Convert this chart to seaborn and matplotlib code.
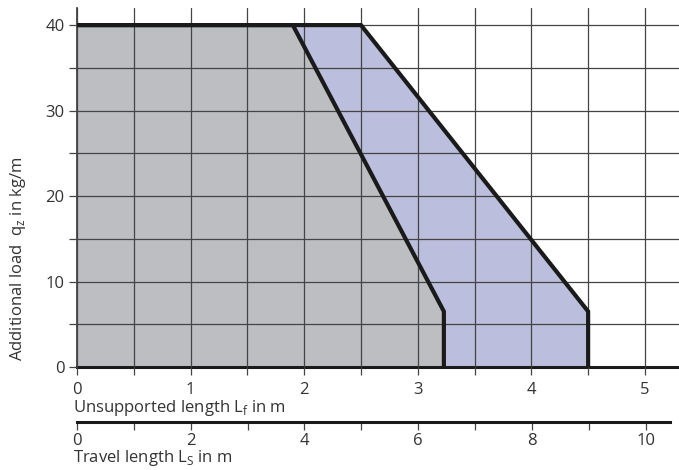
import matplotlib
matplotlib.use("Agg")
import matplotlib.pyplot as plt
import seaborn as sns
import numpy as np
import pandas as pd
from matplotlib.ticker import MultipleLocator

# Load limit curves: unsupported length (m) vs additional load (kg/m)
inner_x = [0.0, 1.9, 3.23, 3.23]
inner_y = [40.0, 40.0, 6.5, 0.0]
outer_x = [0.0, 2.5, 4.5, 4.5]
outer_y = [40.0, 40.0, 6.5, 0.0]

x_ticks = [0, 1, 2, 3, 4, 5]
y_ticks = [0, 10, 20, 30, 40]
travel_ticks = [0, 2, 4, 6, 8, 10]

sns.set_theme(style="white")
plt.rcParams["font.family"] = ["Open Sans", "DejaVu Sans"]
text_color = "#333333"
fs = 12

W, H = 679, 470
fig = plt.figure(figsize=(W / 100, H / 100), dpi=100)
ax = fig.add_axes([77 / W, (H - 367) / H, 602 / W, 359 / H])

inner = pd.DataFrame({"x": inner_x, "y": inner_y})
outer = pd.DataFrame({"x": outer_x, "y": outer_y})

# filled regions
ax.fill_between(outer["x"], 0, outer["y"], color="#bbbedc", lw=0, zorder=1)
ax.fill_between(inner["x"], 0, inner["y"], color="#bdbec1", lw=0, zorder=1.1)

# outlines
for df in (outer, inner):
    sns.lineplot(data=df, x="x", y="y", sort=False, estimator=None,
                 color="#1a1a1a", lw=3.0, ax=ax, zorder=3,
                 solid_joinstyle="miter")

ax.set_xlim(0, 5.3)
ax.set_ylim(0, 42)
ax.set_axisbelow(False)
ax.grid(True, color="#444444", lw=0.9)

xt = np.arange(0, 5.01, 0.5)
ax.set_xticks(xt)
ax.set_xticklabels([str(int(v)) if v in x_ticks else "" for v in xt])
yt = np.arange(0, 40.01, 5)
ax.set_yticks(yt)
ax.set_yticklabels([str(int(v)) if v in y_ticks else "" for v in yt])
ax.tick_params(axis="both", direction="out", length=6, width=0.9,
               color="#444444", labelcolor=text_color, labelsize=fs,
               bottom=True, left=True)
ax.tick_params(axis="x", pad=5)
ax.tick_params(axis="y", pad=3)

for s in ("top", "right"):
    ax.spines[s].set_visible(False)
ax.spines["bottom"].set_color("#1a1a1a")
ax.spines["bottom"].set_linewidth(2.2)
ax.spines["left"].set_color("#333333")
ax.spines["left"].set_linewidth(1.2)
ax.set_xlabel("")
ax.set_ylabel("")

# second scale: travel length
ax2 = fig.add_axes([77 / W, (H - 422) / H, 593 / W, 0.0001])
ax2.set_xlim(0, 10.43)
ax2.set_yticks([])
for s in ("top", "right", "left"):
    ax2.spines[s].set_visible(False)
ax2.spines["bottom"].set_color("#1a1a1a")
ax2.spines["bottom"].set_linewidth(2.2)
ax2.set_xticks(travel_ticks)
ax2.set_xticklabels([str(v) for v in travel_ticks])
ax2.xaxis.set_minor_locator(MultipleLocator(1))
ax2.tick_params(axis="x", which="both", direction="out", length=6, width=0.9,
                color="#444444", labelcolor=text_color, labelsize=fs,
                bottom=True, pad=2)
ax2.patch.set_visible(False)

fig.text(73 / W, (H - 408) / H, r"Unsupported length L$_\mathregular{f}$ in m",
         ha="left", va="center", fontsize=fs, color=text_color)
fig.text(73 / W, 2 / H, r"Travel length L$_\mathregular{S}$ in m",
         ha="left", va="bottom", fontsize=fs, color=text_color)
fig.text(18 / W, (H - 259) / H, r"Additional load  q$_\mathregular{z}$ in kg/m",
         ha="center", va="center", rotation=90, fontsize=fs, color=text_color)

fig.savefig("out.png", dpi=100)
